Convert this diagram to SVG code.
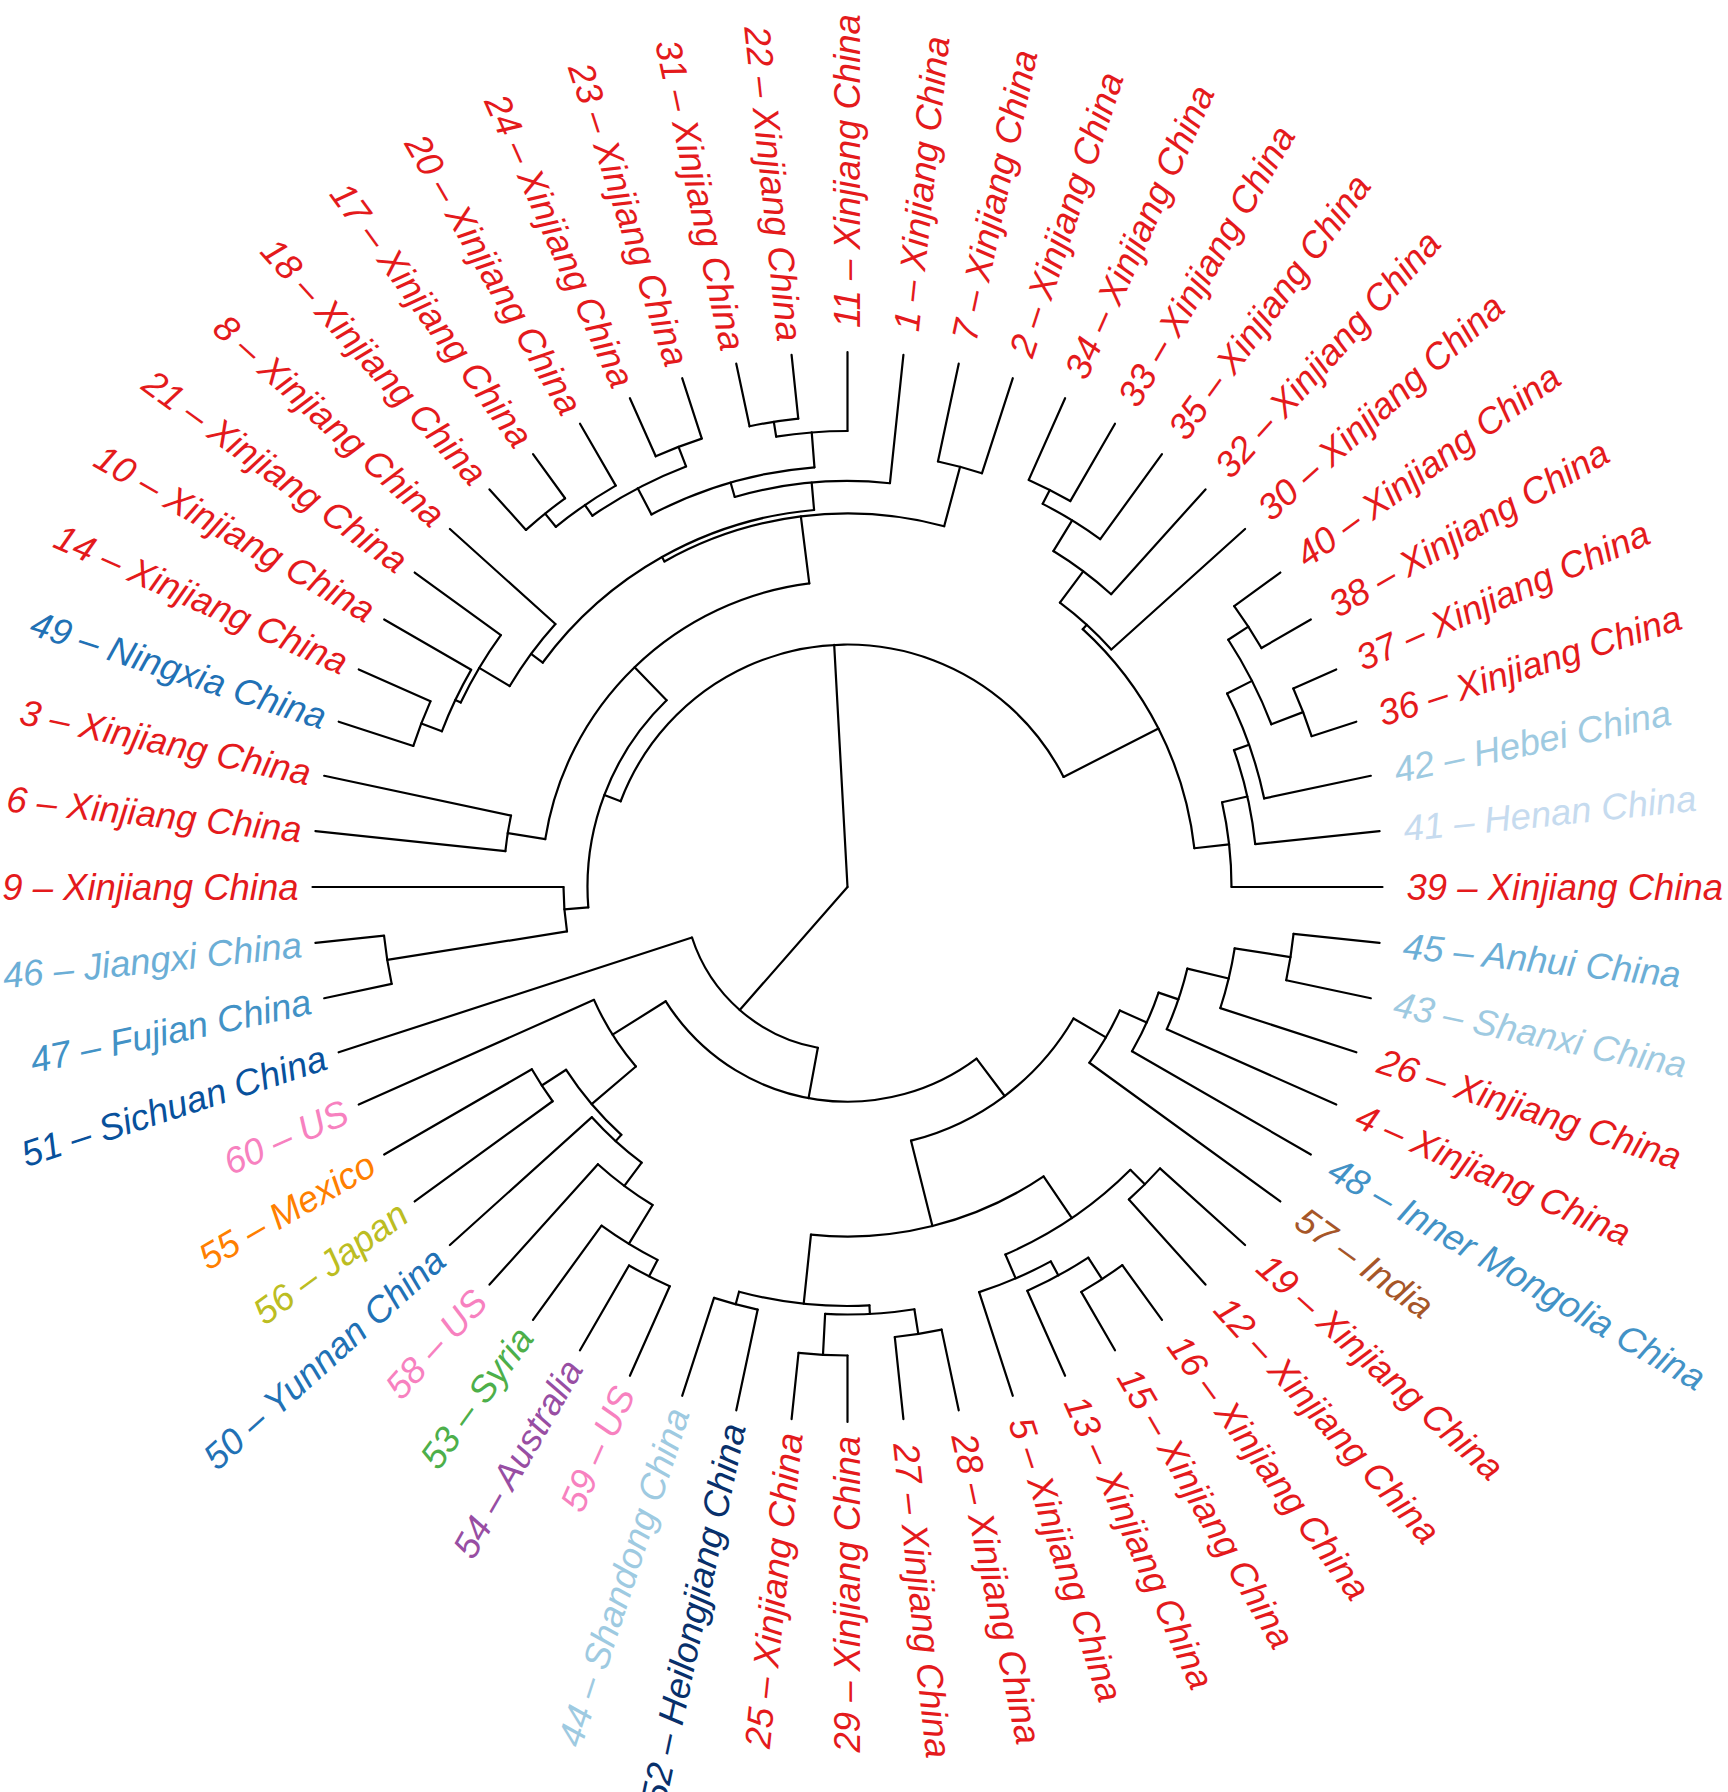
<svg xmlns="http://www.w3.org/2000/svg" width="1728" height="1792" viewBox="0 0 1728 1792">
<style>
#edges line,#edges circle{stroke:#000;stroke-width:2.2;fill:none;stroke-linecap:round}
text{font-family:"Liberation Sans",Arial,sans-serif;font-size:36.5px;font-style:italic}
.L{text-anchor:end}
.red{fill:#E41A1C}.b1{fill:#C6DBEF}.b2{fill:#9ECAE1}.b3{fill:#6BAED6}.b4{fill:#4292C6}.b5{fill:#2171B5}.b6{fill:#08519C}.b7{fill:#08306B}
.pink{fill:#F781BF}.orange{fill:#FF7F00}.olive{fill:#BCBD22}.green{fill:#4DAF4A}.purple{fill:#984EA3}.brown{fill:#A65628}
</style>
<rect width="1728" height="1792" fill="#fff"/>
<g transform="translate(847.5,887)">
<g id="edges">
<line x1="384" x2="535"/>
<line x1="410" x2="535" transform="rotate(-6)"/>
<line x1="426" x2="535" transform="rotate(-12)"/>
<line x1="488" x2="535" transform="rotate(-18)"/>
<line x1="488" x2="535" transform="rotate(-24)"/>
<line x1="478" x2="535" transform="rotate(-30)"/>
<line x1="478" x2="535" transform="rotate(-36)"/>
<line x1="355" x2="535" transform="rotate(-42)"/>
<line x1="394" x2="535" transform="rotate(-48)"/>
<line x1="430" x2="535" transform="rotate(-54)"/>
<line x1="445.6" x2="535" transform="rotate(-60)"/>
<line x1="445.6" x2="535" transform="rotate(-66)"/>
<line x1="435" x2="535" transform="rotate(-72)"/>
<line x1="435" x2="535" transform="rotate(-78)"/>
<line x1="406" x2="535" transform="rotate(-84)"/>
<line x1="456" x2="535" transform="rotate(-90)"/>
<line x1="471" x2="535" transform="rotate(-96)"/>
<line x1="471" x2="535" transform="rotate(-102)"/>
<line x1="471.5" x2="535" transform="rotate(-108)"/>
<line x1="471.5" x2="535" transform="rotate(-114)"/>
<line x1="463.5" x2="535" transform="rotate(-120)"/>
<line x1="480.5" x2="535" transform="rotate(-126)"/>
<line x1="480.5" x2="535" transform="rotate(-132)"/>
<line x1="393" x2="535" transform="rotate(-138)"/>
<line x1="428.5" x2="535" transform="rotate(-144)"/>
<line x1="434.5" x2="535" transform="rotate(-150)"/>
<line x1="456.5" x2="535" transform="rotate(-156)"/>
<line x1="456.5" x2="535" transform="rotate(-162)"/>
<line x1="344" x2="535" transform="rotate(-168)"/>
<line x1="344" x2="535" transform="rotate(-174)"/>
<line x1="284" x2="535" transform="rotate(-180)"/>
<line x1="466" x2="535" transform="rotate(-186)"/>
<line x1="466" x2="535" transform="rotate(-192)"/>
<line x1="163.5" x2="535" transform="rotate(-198)"/>
<line x1="277.5" x2="535" transform="rotate(-204)"/>
<line x1="364.5" x2="535" transform="rotate(-210)"/>
<line x1="364.5" x2="535" transform="rotate(-216)"/>
<line x1="344" x2="535" transform="rotate(-222)"/>
<line x1="373" x2="535" transform="rotate(-228)"/>
<line x1="418.5" x2="535" transform="rotate(-234)"/>
<line x1="437" x2="535" transform="rotate(-240)"/>
<line x1="437" x2="535" transform="rotate(-246)"/>
<line x1="432" x2="535" transform="rotate(-252)"/>
<line x1="432" x2="535" transform="rotate(-258)"/>
<line x1="468.5" x2="535" transform="rotate(-264)"/>
<line x1="468.5" x2="535" transform="rotate(-270)"/>
<line x1="452.5" x2="535" transform="rotate(-276)"/>
<line x1="452.5" x2="535" transform="rotate(-282)"/>
<line x1="426" x2="535" transform="rotate(-288)"/>
<line x1="442" x2="535" transform="rotate(-294)"/>
<line x1="467.5" x2="535" transform="rotate(-300)"/>
<line x1="467.5" x2="535" transform="rotate(-306)"/>
<line x1="420.5" x2="535" transform="rotate(-312)"/>
<line x1="420.5" x2="535" transform="rotate(-318)"/>
<line x1="299" x2="535" transform="rotate(-324)"/>
<line x1="328.5" x2="535" transform="rotate(-330)"/>
<line x1="349.5" x2="535" transform="rotate(-336)"/>
<line x1="392" x2="535" transform="rotate(-342)"/>
<line x1="448.5" x2="535" transform="rotate(-348)"/>
<line x1="448.5" x2="535" transform="rotate(-354)"/>
<line x1="454" x2="478" transform="rotate(-33)"/>
<line x1="454" x2="488" transform="rotate(-21)"/>
<line x1="426" x2="454" transform="rotate(-27)"/>
<line x1="410" x2="426" transform="rotate(-19.5)"/>
<line x1="384" x2="410" transform="rotate(-12.75)"/>
<line x1="349" x2="384" transform="rotate(-6.375)"/>
<line x1="430" x2="445.6" transform="rotate(-63)"/>
<line x1="394" x2="430" transform="rotate(-58.5)"/>
<line x1="355" x2="394" transform="rotate(-53.25)"/>
<line x1="349" x2="355" transform="rotate(-47.625)"/>
<line x1="242.5" x2="349" transform="rotate(-27)"/>
<line x1="373.5" x2="435" transform="rotate(-75)"/>
<line x1="456" x2="471" transform="rotate(-99)"/>
<line x1="421" x2="456" transform="rotate(-94.5)"/>
<line x1="450.5" x2="471.5" transform="rotate(-111)"/>
<line x1="463.5" x2="480.5" transform="rotate(-129)"/>
<line x1="450.5" x2="463.5" transform="rotate(-124.5)"/>
<line x1="421" x2="450.5" transform="rotate(-117.75)"/>
<line x1="406" x2="421" transform="rotate(-106.125)"/>
<line x1="378.5" x2="406" transform="rotate(-95.0625)"/>
<line x1="434.5" x2="456.5" transform="rotate(-159)"/>
<line x1="428.5" x2="434.5" transform="rotate(-154.5)"/>
<line x1="393" x2="428.5" transform="rotate(-149.25)"/>
<line x1="378.5" x2="393" transform="rotate(-143.625)"/>
<line x1="373.5" x2="378.5" transform="rotate(-119.344)"/>
<line x1="306" x2="373.5" transform="rotate(-97.172)"/>
<line x1="306" x2="344" transform="rotate(-171)"/>
<line x1="260" x2="306" transform="rotate(-134.086)"/>
<line x1="284" x2="466" transform="rotate(-189)"/>
<line x1="260" x2="284" transform="rotate(-184.5)"/>
<line x1="242.5" x2="260" transform="rotate(-159.293)"/>
<line x1="0" x2="242.5" transform="rotate(-93.147)"/>
<line x1="392" x2="448.5" transform="rotate(-351)"/>
<line x1="349.5" x2="392" transform="rotate(-346.5)"/>
<line x1="328.5" x2="349.5" transform="rotate(-341.25)"/>
<line x1="299" x2="328.5" transform="rotate(-335.625)"/>
<line x1="261.5" x2="299" transform="rotate(-329.8125)"/>
<line x1="400" x2="420.5" transform="rotate(-315)"/>
<line x1="442" x2="467.5" transform="rotate(-303)"/>
<line x1="426" x2="442" transform="rotate(-298.5)"/>
<line x1="400" x2="426" transform="rotate(-293.25)"/>
<line x1="349.5" x2="400" transform="rotate(-304.125)"/>
<line x1="427.5" x2="452.5" transform="rotate(-279)"/>
<line x1="427.5" x2="468.5" transform="rotate(-267)"/>
<line x1="419" x2="427.5" transform="rotate(-273)"/>
<line x1="419" x2="432" transform="rotate(-255)"/>
<line x1="349.5" x2="419" transform="rotate(-264)"/>
<line x1="261.5" x2="349.5" transform="rotate(-284.0625)"/>
<line x1="214.7" x2="261.5" transform="rotate(-306.9375)"/>
<line x1="418.5" x2="437" transform="rotate(-243)"/>
<line x1="373" x2="418.5" transform="rotate(-238.5)"/>
<line x1="344" x2="373" transform="rotate(-233.25)"/>
<line x1="335.5" x2="344" transform="rotate(-227.625)"/>
<line x1="335.5" x2="364.5" transform="rotate(-213)"/>
<line x1="277.5" x2="335.5" transform="rotate(-220.3125)"/>
<line x1="214.7" x2="277.5" transform="rotate(-212.156)"/>
<line x1="163.5" x2="214.7" transform="rotate(-259.547)"/>
<line x1="0" x2="163.5" transform="rotate(-228.773)"/>
<circle r="478" pathLength="360" stroke-dasharray="6 400" transform="rotate(-36)"/>
<circle r="488" pathLength="360" stroke-dasharray="6 400" transform="rotate(-24)"/>
<circle r="454" pathLength="360" stroke-dasharray="12 400" transform="rotate(-33)"/>
<circle r="426" pathLength="360" stroke-dasharray="15 400" transform="rotate(-27)"/>
<circle r="410" pathLength="360" stroke-dasharray="13.5 400" transform="rotate(-19.5)"/>
<circle r="384" pathLength="360" stroke-dasharray="12.75 400" transform="rotate(-12.75)"/>
<circle r="445.6" pathLength="360" stroke-dasharray="6 400" transform="rotate(-66)"/>
<circle r="430" pathLength="360" stroke-dasharray="9 400" transform="rotate(-63)"/>
<circle r="394" pathLength="360" stroke-dasharray="10.5 400" transform="rotate(-58.5)"/>
<circle r="355" pathLength="360" stroke-dasharray="11.25 400" transform="rotate(-53.25)"/>
<circle r="349" pathLength="360" stroke-dasharray="41.25 400" transform="rotate(-47.625)"/>
<circle r="435" pathLength="360" stroke-dasharray="6 400" transform="rotate(-78)"/>
<circle r="471" pathLength="360" stroke-dasharray="6 400" transform="rotate(-102)"/>
<circle r="456" pathLength="360" stroke-dasharray="9 400" transform="rotate(-99)"/>
<circle r="471.5" pathLength="360" stroke-dasharray="6 400" transform="rotate(-114)"/>
<circle r="480.5" pathLength="360" stroke-dasharray="6 400" transform="rotate(-132)"/>
<circle r="463.5" pathLength="360" stroke-dasharray="9 400" transform="rotate(-129)"/>
<circle r="450.5" pathLength="360" stroke-dasharray="13.5 400" transform="rotate(-124.5)"/>
<circle r="421" pathLength="360" stroke-dasharray="23.25 400" transform="rotate(-117.75)"/>
<circle r="406" pathLength="360" stroke-dasharray="22.125 400" transform="rotate(-106.125)"/>
<circle r="456.5" pathLength="360" stroke-dasharray="6 400" transform="rotate(-162)"/>
<circle r="434.5" pathLength="360" stroke-dasharray="9 400" transform="rotate(-159)"/>
<circle r="428.5" pathLength="360" stroke-dasharray="10.5 400" transform="rotate(-154.5)"/>
<circle r="393" pathLength="360" stroke-dasharray="11.25 400" transform="rotate(-149.25)"/>
<circle r="378.5" pathLength="360" stroke-dasharray="48.5625 400" transform="rotate(-143.625)"/>
<circle r="373.5" pathLength="360" stroke-dasharray="44.344 400" transform="rotate(-119.344)"/>
<circle r="344" pathLength="360" stroke-dasharray="6 400" transform="rotate(-174)"/>
<circle r="306" pathLength="360" stroke-dasharray="73.828 400" transform="rotate(-171)"/>
<circle r="466" pathLength="360" stroke-dasharray="6 400" transform="rotate(-192)"/>
<circle r="284" pathLength="360" stroke-dasharray="9 400" transform="rotate(-189)"/>
<circle r="260" pathLength="360" stroke-dasharray="50.414 400" transform="rotate(-184.5)"/>
<circle r="242.5" pathLength="360" stroke-dasharray="132.293 400" transform="rotate(-159.293)"/>
<circle r="448.5" pathLength="360" stroke-dasharray="6 400" transform="rotate(-354)"/>
<circle r="392" pathLength="360" stroke-dasharray="9 400" transform="rotate(-351)"/>
<circle r="349.5" pathLength="360" stroke-dasharray="10.5 400" transform="rotate(-346.5)"/>
<circle r="328.5" pathLength="360" stroke-dasharray="11.25 400" transform="rotate(-341.25)"/>
<circle r="299" pathLength="360" stroke-dasharray="11.625 400" transform="rotate(-335.625)"/>
<circle r="420.5" pathLength="360" stroke-dasharray="6 400" transform="rotate(-318)"/>
<circle r="467.5" pathLength="360" stroke-dasharray="6 400" transform="rotate(-306)"/>
<circle r="442" pathLength="360" stroke-dasharray="9 400" transform="rotate(-303)"/>
<circle r="426" pathLength="360" stroke-dasharray="10.5 400" transform="rotate(-298.5)"/>
<circle r="400" pathLength="360" stroke-dasharray="21.75 400" transform="rotate(-315)"/>
<circle r="452.5" pathLength="360" stroke-dasharray="6 400" transform="rotate(-282)"/>
<circle r="468.5" pathLength="360" stroke-dasharray="6 400" transform="rotate(-270)"/>
<circle r="427.5" pathLength="360" stroke-dasharray="12 400" transform="rotate(-279)"/>
<circle r="432" pathLength="360" stroke-dasharray="6 400" transform="rotate(-258)"/>
<circle r="419" pathLength="360" stroke-dasharray="18 400" transform="rotate(-273)"/>
<circle r="349.5" pathLength="360" stroke-dasharray="40.125 400" transform="rotate(-304.125)"/>
<circle r="261.5" pathLength="360" stroke-dasharray="45.75 400" transform="rotate(-329.8125)"/>
<circle r="437" pathLength="360" stroke-dasharray="6 400" transform="rotate(-246)"/>
<circle r="418.5" pathLength="360" stroke-dasharray="9 400" transform="rotate(-243)"/>
<circle r="373" pathLength="360" stroke-dasharray="10.5 400" transform="rotate(-238.5)"/>
<circle r="344" pathLength="360" stroke-dasharray="11.25 400" transform="rotate(-233.25)"/>
<circle r="364.5" pathLength="360" stroke-dasharray="6 400" transform="rotate(-216)"/>
<circle r="335.5" pathLength="360" stroke-dasharray="14.625 400" transform="rotate(-227.625)"/>
<circle r="277.5" pathLength="360" stroke-dasharray="16.3125 400" transform="rotate(-220.3125)"/>
<circle r="214.7" pathLength="360" stroke-dasharray="94.78 400" transform="rotate(-306.9375)"/>
<circle r="163.5" pathLength="360" stroke-dasharray="61.547 400" transform="rotate(-259.547)"/>
</g>
<g id="tip39"><text class="red" x="559" dy=".35em">39 – Xinjiang China</text></g>
<g id="tip41"><text class="b1" x="559" dy=".35em" transform="rotate(-6)">41 – Henan China</text></g>
<g id="tip42"><text class="b2" x="559" dy=".35em" transform="rotate(-12)">42 – Hebei China</text></g>
<g id="tip36"><text class="red" x="559" dy=".35em" transform="rotate(-18)">36 – Xinjiang China</text></g>
<g id="tip37"><text class="red" x="559" dy=".35em" transform="rotate(-24)">37 – Xinjiang China</text></g>
<g id="tip38"><text class="red" x="559" dy=".35em" transform="rotate(-30)">38 – Xinjiang China</text></g>
<g id="tip40"><text class="red" x="559" dy=".35em" transform="rotate(-36)">40 – Xinjiang China</text></g>
<g id="tip30"><text class="red" x="559" dy=".35em" transform="rotate(-42)">30 – Xinjiang China</text></g>
<g id="tip32"><text class="red" x="559" dy=".35em" transform="rotate(-48)">32 – Xinjiang China</text></g>
<g id="tip35"><text class="red" x="559" dy=".35em" transform="rotate(-54)">35 – Xinjiang China</text></g>
<g id="tip33"><text class="red" x="559" dy=".35em" transform="rotate(-60)">33 – Xinjiang China</text></g>
<g id="tip34"><text class="red" x="559" dy=".35em" transform="rotate(-66)">34 – Xinjiang China</text></g>
<g id="tip2"><text class="red" x="559" dy=".35em" transform="rotate(-72)">2 – Xinjiang China</text></g>
<g id="tip7"><text class="red" x="559" dy=".35em" transform="rotate(-78)">7 – Xinjiang China</text></g>
<g id="tip1"><text class="red" x="559" dy=".35em" transform="rotate(-84)">1 – Xinjiang China</text></g>
<g id="tip11"><text class="red" x="559" dy=".35em" transform="rotate(-90)">11 – Xinjiang China</text></g>
<g id="tip22"><text class="red L" x="-549" dy=".35em" transform="rotate(84)">22 – Xinjiang China</text></g>
<g id="tip31"><text class="red L" x="-549" dy=".35em" transform="rotate(78)">31 – Xinjiang China</text></g>
<g id="tip23"><text class="red L" x="-549" dy=".35em" transform="rotate(72)">23 – Xinjiang China</text></g>
<g id="tip24"><text class="red L" x="-549" dy=".35em" transform="rotate(66)">24 – Xinjiang China</text></g>
<g id="tip20"><text class="red L" x="-549" dy=".35em" transform="rotate(60)">20 – Xinjiang China</text></g>
<g id="tip17"><text class="red L" x="-549" dy=".35em" transform="rotate(54)">17 – Xinjiang China</text></g>
<g id="tip18"><text class="red L" x="-549" dy=".35em" transform="rotate(48)">18 – Xinjiang China</text></g>
<g id="tip8"><text class="red L" x="-549" dy=".35em" transform="rotate(42)">8 – Xinjiang China</text></g>
<g id="tip21"><text class="red L" x="-549" dy=".35em" transform="rotate(36)">21 – Xinjiang China</text></g>
<g id="tip10"><text class="red L" x="-549" dy=".35em" transform="rotate(30)">10 – Xinjiang China</text></g>
<g id="tip14"><text class="red L" x="-549" dy=".35em" transform="rotate(24)">14 – Xinjiang China</text></g>
<g id="tip49"><text class="b5 L" x="-549" dy=".35em" transform="rotate(18)">49 – Ningxia China</text></g>
<g id="tip3"><text class="red L" x="-549" dy=".35em" transform="rotate(12)">3 – Xinjiang China</text></g>
<g id="tip6"><text class="red L" x="-549" dy=".35em" transform="rotate(6)">6 – Xinjiang China</text></g>
<g id="tip9"><text class="red L" x="-549" dy=".35em">9 – Xinjiang China</text></g>
<g id="tip46"><text class="b3 L" x="-549" dy=".35em" transform="rotate(-6)">46 – Jiangxi China</text></g>
<g id="tip47"><text class="b4 L" x="-549" dy=".35em" transform="rotate(-12)">47 – Fujian China</text></g>
<g id="tip51"><text class="b6 L" x="-549" dy=".35em" transform="rotate(-18)">51 – Sichuan China</text></g>
<g id="tip60"><text class="pink L" x="-549" dy=".35em" transform="rotate(-24)">60 – US</text></g>
<g id="tip55"><text class="orange L" x="-549" dy=".35em" transform="rotate(-30)">55 – Mexico</text></g>
<g id="tip56"><text class="olive L" x="-549" dy=".35em" transform="rotate(-36)">56 – Japan</text></g>
<g id="tip50"><text class="b5 L" x="-549" dy=".35em" transform="rotate(-42)">50 – Yunnan China</text></g>
<g id="tip58"><text class="pink L" x="-549" dy=".35em" transform="rotate(-48)">58 – US</text></g>
<g id="tip53"><text class="green L" x="-549" dy=".35em" transform="rotate(-54)">53 – Syria</text></g>
<g id="tip54"><text class="purple L" x="-549" dy=".35em" transform="rotate(-60)">54 – Australia</text></g>
<g id="tip59"><text class="pink L" x="-549" dy=".35em" transform="rotate(-66)">59 – US</text></g>
<g id="tip44"><text class="b2 L" x="-549" dy=".35em" transform="rotate(-72)">44 – Shandong China</text></g>
<g id="tip52"><text class="b7 L" x="-549" dy=".35em" transform="rotate(-78)">52 – Heilongjiang China</text></g>
<g id="tip25"><text class="red L" x="-549" dy=".35em" transform="rotate(-84)">25 – Xinjiang China</text></g>
<g id="tip29"><text class="red L" x="-549" dy=".35em" transform="rotate(-90)">29 – Xinjiang China</text></g>
<g id="tip27"><text class="red" x="559" dy=".35em" transform="rotate(84)">27 – Xinjiang China</text></g>
<g id="tip28"><text class="red" x="559" dy=".35em" transform="rotate(78)">28 – Xinjiang China</text></g>
<g id="tip5"><text class="red" x="559" dy=".35em" transform="rotate(72)">5 – Xinjiang China</text></g>
<g id="tip13"><text class="red" x="559" dy=".35em" transform="rotate(66)">13 – Xinjiang China</text></g>
<g id="tip15"><text class="red" x="559" dy=".35em" transform="rotate(60)">15 – Xinjiang China</text></g>
<g id="tip16"><text class="red" x="559" dy=".35em" transform="rotate(54)">16 – Xinjiang China</text></g>
<g id="tip12"><text class="red" x="559" dy=".35em" transform="rotate(48)">12 – Xinjiang China</text></g>
<g id="tip19"><text class="red" x="559" dy=".35em" transform="rotate(42)">19 – Xinjiang China</text></g>
<g id="tip57"><text class="brown" x="559" dy=".35em" transform="rotate(36)">57 – India</text></g>
<g id="tip48"><text class="b4" x="559" dy=".35em" transform="rotate(30)">48 – Inner Mongolia China</text></g>
<g id="tip4"><text class="red" x="559" dy=".35em" transform="rotate(24)">4 – Xinjiang China</text></g>
<g id="tip26"><text class="red" x="559" dy=".35em" transform="rotate(18)">26 – Xinjiang China</text></g>
<g id="tip43"><text class="b2" x="559" dy=".35em" transform="rotate(12)">43 – Shanxi China</text></g>
<g id="tip45"><text class="b3" x="559" dy=".35em" transform="rotate(6)">45 – Anhui China</text></g>
</g>
</svg>
